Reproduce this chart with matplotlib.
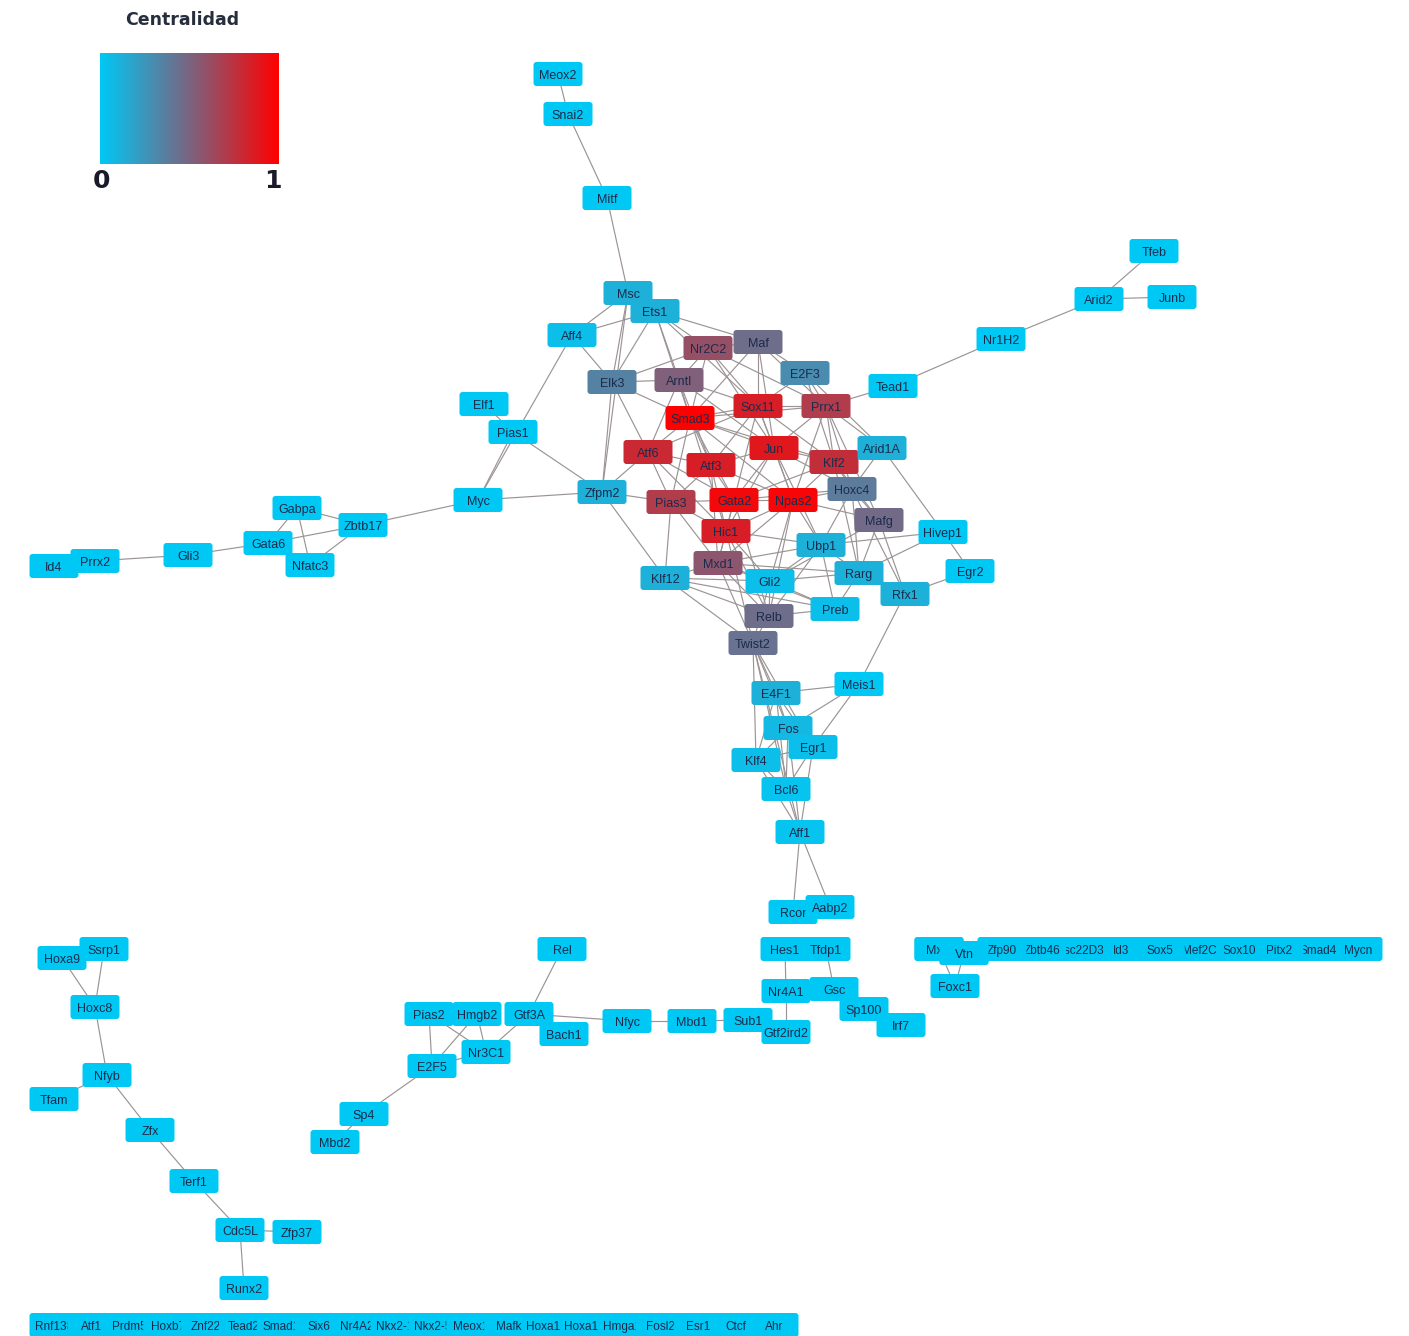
import numpy as np
import matplotlib
matplotlib.use("Agg")
import matplotlib.pyplot as plt
from matplotlib.patches import FancyBboxPatch
from matplotlib.colors import LinearSegmentedColormap

# ---------------- data ----------------
# connected nodes: name, centrality (0..1)
node_names = [
    "Meox2", "Snai2", "Mitf", "Msc", "Ets1", "Aff4", "Nr2C2", "Maf", "Elk3", "Arntl",
    "E2F3", "Tead1", "Nr1H2", "Arid2", "Tfeb", "Junb", "Elf1", "Pias1", "Smad3", "Sox11",
    "Prrx1", "Atf6", "Jun", "Atf3", "Klf2", "Arid1A", "Myc", "Zfpm2", "Pias3", "Gata2",
    "Npas2", "Hoxc4", "Mafg", "Hivep1", "Hic1", "Ubp1", "Mxd1", "Klf12", "Gli2", "Rarg",
    "Egr2", "Rfx1", "Preb", "Relb", "Twist2", "Meis1", "E4F1", "Fos", "Egr1", "Klf4",
    "Bcl6", "Aff1", "Rcor", "Aabp2",
    "Gabpa", "Zbtb17", "Gata6", "Nfatc3", "Gli3", "Prrx2", "Id4",
    "Hoxa9", "Ssrp1", "Hoxc8", "Nfyb", "Tfam", "Zfx", "Terf1", "Cdc5L", "Zfp37", "Runx2",
    "Rel", "Pias2", "Hmgb2", "Gtf3A", "Bach1", "Nr3C1", "E2F5", "Sp4", "Mbd2",
    "Nfyc", "Mbd1", "Sub1", "Gtf2ird2", "Hes1", "Tfdp1", "Nr4A1", "Gsc", "Sp100", "Irf7",
    "Mxi1", "Vtn", "Foxc1",
]
centrality = [
    0.0, 0.0, 0.0, 0.12, 0.12, 0.05, 0.6, 0.45, 0.35, 0.52,
    0.3, 0.0, 0.0, 0.0, 0.0, 0.0, 0.0, 0.0, 1.0, 0.85,
    0.7, 0.8, 0.88, 0.85, 0.77, 0.12, 0.0, 0.12, 0.7, 0.95,
    0.97, 0.38, 0.47, 0.0, 0.85, 0.12, 0.57, 0.12, 0.05, 0.12,
    0.0, 0.12, 0.05, 0.45, 0.43, 0.0, 0.12, 0.08, 0.05, 0.05,
    0.03, 0.02, 0.0, 0.0,
    0.0, 0.0, 0.0, 0.0, 0.0, 0.0, 0.0,
    0.0, 0.0, 0.0, 0.0, 0.0, 0.0, 0.0, 0.0, 0.0, 0.0,
    0.0, 0.0, 0.0, 0.0, 0.0, 0.0, 0.0, 0.0, 0.0,
    0.0, 0.0, 0.0, 0.0, 0.0, 0.0, 0.0, 0.0, 0.0, 0.0,
    0.0, 0.0, 0.0,
]

# isolated nodes (centrality 0)
isolated_right = ["Zfp90", "Zbtb46", "Tsc22D3", "Id3", "Sox5", "Mef2C", "Sox10",
                  "Pitx2", "Smad4", "Mycn"]
isolated_bottom = ["Rnf138", "Atf1", "Prdm5", "Hoxb7", "Znf22", "Tead2", "Smad1",
                   "Six6", "Nr4A2", "Nkx2-1", "Nkx2-5", "Meox1", "Mafk", "Hoxa10",
                   "Hoxa13", "Hmga1", "Fosl2", "Esr1", "Ctcf", "Ahr"]

edges = [
    ("Meox2", "Snai2"), ("Snai2", "Mitf"), ("Mitf", "Msc"),
    ("Msc", "Aff4"), ("Msc", "Elk3"), ("Msc", "Ets1"), ("Msc", "Zfpm2"),
    ("Aff4", "Ets1"), ("Aff4", "Elk3"), ("Aff4", "Myc"),
    ("Ets1", "Maf"), ("Ets1", "Nr2C2"), ("Ets1", "Arntl"), ("Ets1", "Elk3"),
    ("Ets1", "Sox11"), ("Ets1", "Smad3"),
    ("Elk3", "Arntl"), ("Elk3", "Atf6"), ("Elk3", "Smad3"), ("Elk3", "Zfpm2"),
    ("Elk3", "Nr2C2"),
    ("Nr2C2", "Maf"), ("Nr2C2", "Arntl"), ("Nr2C2", "Sox11"), ("Nr2C2", "Prrx1"),
    ("Nr2C2", "Jun"), ("Nr2C2", "Smad3"),
    ("Maf", "E2F3"), ("Maf", "Sox11"), ("Maf", "Smad3"), ("Maf", "Prrx1"), ("Maf", "Jun"),
    ("Arntl", "Smad3"), ("Arntl", "Atf3"), ("Arntl", "Atf6"), ("Arntl", "Sox11"),
    ("Arntl", "Jun"),
    ("E2F3", "Prrx1"), ("E2F3", "Sox11"), ("E2F3", "Klf2"), ("E2F3", "Arid1A"),
    ("Prrx1", "Tead1"), ("Tead1", "Nr1H2"), ("Nr1H2", "Arid2"), ("Arid2", "Tfeb"),
    ("Arid2", "Junb"),
    ("Prrx1", "Sox11"), ("Prrx1", "Klf2"), ("Prrx1", "Jun"), ("Prrx1", "Arid1A"),
    ("Prrx1", "Hoxc4"), ("Prrx1", "Mafg"), ("Prrx1", "Npas2"), ("Prrx1", "Smad3"),
    ("Sox11", "Smad3"), ("Sox11", "Jun"), ("Sox11", "Atf3"), ("Sox11", "Klf2"),
    ("Sox11", "Gata2"), ("Sox11", "Npas2"), ("Sox11", "Atf6"),
    ("Smad3", "Atf6"), ("Smad3", "Atf3"), ("Smad3", "Jun"), ("Smad3", "Gata2"),
    ("Smad3", "Hic1"), ("Smad3", "Pias3"), ("Smad3", "Npas2"), ("Smad3", "Klf2"),
    ("Atf6", "Atf3"), ("Atf6", "Pias3"), ("Atf6", "Zfpm2"), ("Atf6", "Gata2"),
    ("Atf6", "Hic1"),
    ("Jun", "Atf3"), ("Jun", "Klf2"), ("Jun", "Gata2"), ("Jun", "Npas2"), ("Jun", "Hic1"),
    ("Jun", "Hoxc4"), ("Jun", "Ubp1"),
    ("Atf3", "Gata2"), ("Atf3", "Npas2"), ("Atf3", "Pias3"), ("Atf3", "Hic1"),
    ("Atf3", "Mxd1"),
    ("Klf2", "Npas2"), ("Klf2", "Hoxc4"), ("Klf2", "Arid1A"), ("Klf2", "Mafg"),
    ("Klf2", "Rarg"), ("Klf2", "Gata2"),
    ("Arid1A", "Hivep1"), ("Arid1A", "Hoxc4"), ("Hivep1", "Egr2"), ("Hivep1", "Ubp1"),
    ("Hivep1", "Rarg"), ("Egr2", "Rfx1"),
    ("Hoxc4", "Mafg"), ("Hoxc4", "Npas2"), ("Hoxc4", "Ubp1"), ("Hoxc4", "Rarg"),
    ("Hoxc4", "Rfx1"), ("Hoxc4", "Gata2"),
    ("Mafg", "Npas2"), ("Mafg", "Rarg"), ("Mafg", "Rfx1"), ("Mafg", "Gli2"),
    ("Npas2", "Gata2"), ("Npas2", "Hic1"), ("Npas2", "Ubp1"), ("Npas2", "Relb"),
    ("Npas2", "Mxd1"), ("Npas2", "Gli2"),
    ("Gata2", "Pias3"), ("Gata2", "Hic1"), ("Gata2", "Mxd1"), ("Gata2", "Relb"),
    ("Pias3", "Hic1"), ("Pias3", "Zfpm2"), ("Pias3", "Klf12"), ("Pias3", "Mxd1"),
    ("Zfpm2", "Myc"), ("Zfpm2", "Klf12"), ("Zfpm2", "Pias1"),
    ("Pias1", "Elf1"), ("Pias1", "Myc"),
    ("Myc", "Zbtb17"), ("Zbtb17", "Gabpa"), ("Zbtb17", "Gata6"), ("Zbtb17", "Nfatc3"),
    ("Gabpa", "Gata6"), ("Gabpa", "Nfatc3"), ("Gata6", "Gli3"), ("Gli3", "Prrx2"),
    ("Prrx2", "Id4"),
    ("Hic1", "Mxd1"), ("Hic1", "Ubp1"), ("Hic1", "Gli2"), ("Hic1", "Relb"),
    ("Hic1", "Twist2"),
    ("Mxd1", "Klf12"), ("Mxd1", "Gli2"), ("Mxd1", "Ubp1"), ("Mxd1", "Relb"),
    ("Mxd1", "Twist2"), ("Mxd1", "Rarg"), ("Mxd1", "Preb"),
    ("Ubp1", "Gli2"), ("Ubp1", "Rarg"), ("Ubp1", "Preb"), ("Ubp1", "Relb"),
    ("Klf12", "Gli2"), ("Klf12", "Relb"), ("Klf12", "Twist2"), ("Klf12", "Preb"),
    ("Gli2", "Relb"), ("Gli2", "Preb"), ("Gli2", "Twist2"), ("Gli2", "Rarg"),
    ("Rarg", "Rfx1"), ("Rarg", "Preb"), ("Rfx1", "Meis1"), ("Preb", "Relb"),
    ("Relb", "Twist2"),
    ("Twist2", "E4F1"), ("Twist2", "Fos"), ("Twist2", "Egr1"), ("Twist2", "Bcl6"),
    ("Twist2", "Klf4"), ("Twist2", "Aff1"),
    ("E4F1", "Meis1"), ("E4F1", "Fos"), ("E4F1", "Egr1"), ("E4F1", "Bcl6"),
    ("E4F1", "Klf4"),
    ("Meis1", "Fos"), ("Meis1", "Egr1"),
    ("Fos", "Egr1"), ("Fos", "Klf4"), ("Fos", "Bcl6"), ("Fos", "Aff1"),
    ("Egr1", "Bcl6"), ("Egr1", "Klf4"), ("Egr1", "Aff1"),
    ("Klf4", "Bcl6"), ("Klf4", "Aff1"), ("Bcl6", "Aff1"),
    ("Aff1", "Rcor"), ("Aff1", "Aabp2"),
    ("Hoxa9", "Hoxc8"), ("Ssrp1", "Hoxc8"), ("Hoxc8", "Nfyb"), ("Nfyb", "Tfam"),
    ("Nfyb", "Zfx"), ("Zfx", "Terf1"), ("Terf1", "Cdc5L"), ("Cdc5L", "Zfp37"),
    ("Cdc5L", "Runx2"),
    ("Rel", "Gtf3A"), ("Gtf3A", "Nfyc"), ("Gtf3A", "Nr3C1"), ("Hmgb2", "Nr3C1"),
    ("Hmgb2", "E2F5"), ("Pias2", "E2F5"), ("Pias2", "Nr3C1"), ("Nr3C1", "E2F5"),
    ("E2F5", "Sp4"), ("Sp4", "Mbd2"), ("Nfyc", "Mbd1"), ("Mbd1", "Sub1"),
    ("Hes1", "Nr4A1"), ("Nr4A1", "Gtf2ird2"), ("Tfdp1", "Gsc"), ("Gsc", "Sp100"),
    ("Sp100", "Irf7"), ("Mxi1", "Foxc1"), ("Vtn", "Foxc1"),
]

# ---------------- layout (pixel coordinates of the network drawing) ----------------
layout_x = [
    558, 568, 607, 628, 655, 572, 708, 758, 612, 679,
    805, 893, 1001, 1099, 1154, 1172, 484, 513, 690, 758,
    826, 648, 774, 711, 834, 882, 478, 602, 671, 734,
    793, 852, 879, 943, 726, 821, 718, 665, 770, 859,
    970, 905, 835, 769, 753, 859, 776, 788, 813, 756,
    786, 800, 793, 830,
    297, 363, 268, 310, 188, 95, 54,
    62, 104, 95, 107, 54, 150, 194, 240, 297, 244,
    562, 429, 477, 529, 564, 486, 432, 364, 335,
    627, 692, 748, 786, 785, 826, 786, 834, 864, 901,
    939, 964, 955,
]
layout_y = [
    74, 114, 198, 293, 311, 335, 348, 342, 382, 380,
    373, 386, 339, 299, 251, 297, 404, 432, 418, 406,
    406, 452, 448, 465, 462, 448, 500, 492, 502, 500,
    500, 489, 520, 532, 531, 545, 563, 578, 581, 573,
    571, 594, 609, 616, 643, 684, 693, 728, 747, 760,
    789, 832, 912, 907,
    508, 525, 543, 565, 555, 561, 566,
    958, 949, 1007, 1075, 1099, 1130, 1181, 1230, 1232, 1288,
    949, 1014, 1014, 1014, 1034, 1052, 1066, 1114, 1142,
    1021, 1021, 1020, 1032, 949, 949, 991, 989, 1009, 1025,
    949, 953, 986,
]
W, H = 49, 24
FIG_W, FIG_H = 1409, 1336

# ---------------- figure ----------------
cmap = LinearSegmentedColormap.from_list(
    "centralidad", [(0.0, "#00c8f5"), (0.5, "#7a6480"), (1.0, "#ff0000")])
TXT = "#1b2b4b"
FONT = "Liberation Sans"

fig = plt.figure(figsize=(FIG_W / 100, FIG_H / 100), dpi=100)
ax = fig.add_axes([0, 0, 1, 1])
ax.set_xlim(0, FIG_W)
ax.set_ylim(FIG_H, 0)
ax.axis("off")

pos = {n: (x, y) for n, x, y in zip(node_names, layout_x, layout_y)}

for a, b in edges:
    (x1, y1), (x2, y2) = pos[a], pos[b]
    ax.plot([x1, x2], [y1, y2], color="#9c9494", lw=0.85, zorder=1,
            solid_capstyle="butt")


def draw_node(x, y, label, c, k, fs=9):
    z = 2 + k * 0.01
    box = FancyBboxPatch((x - W / 2, y - H / 2), W, H,
                         boxstyle="round,pad=0,rounding_size=3",
                         facecolor=cmap(c), edgecolor="none", zorder=z)
    ax.add_patch(box)
    t = ax.text(x, y + 0.5, label, ha="center", va="center_baseline", fontsize=fs,
                family=FONT, color=TXT, zorder=z + 0.005)
    t.set_clip_path(box)


k = 0
for n, c in zip(node_names, centrality):
    x, y = pos[n]
    draw_node(x, y, n, c, k)
    k += 1

# isolated rows (grid layout)
xr = np.linspace(1002, 1358, len(isolated_right))
for i in range(len(isolated_right) - 1, -1, -1):
    draw_node(xr[i], 949, isolated_right[i], 0.0, k, fs=8.5)
    k += 1
xb = np.linspace(54, 774, len(isolated_bottom))
for i, n in enumerate(isolated_bottom):
    draw_node(xb[i], 1325, n, 0.0, k, fs=8.5)
    k += 1
# keep Mxi1 / Vtn above the right row
for n in ["Mxi1", "Vtn"]:
    x, y = pos[n]
    draw_node(x, y, n, 0.0, k)
    k += 1

# ---------------- legend ----------------
grad = np.linspace(0, 1, 256).reshape(1, -1)
ax.imshow(grad, extent=(100, 279, 164, 53), cmap=cmap, aspect="auto",
          interpolation="bilinear", zorder=5)
ax.set_xlim(0, FIG_W)
ax.set_ylim(FIG_H, 0)
ax.text(182, 20, "Centralidad", ha="center", va="center", fontsize=12.5,
        fontweight="bold", family="DejaVu Sans", color="#262d3d")
ax.text(101, 181, "0", ha="center", va="center", fontsize=18,
        fontweight="bold", family="DejaVu Sans", color="#1a1a2a")
ax.text(273, 181, "1", ha="center", va="center", fontsize=18,
        fontweight="bold", family="DejaVu Sans", color="#1a1a2a")

fig.savefig("out.png", dpi=100, facecolor="white")
